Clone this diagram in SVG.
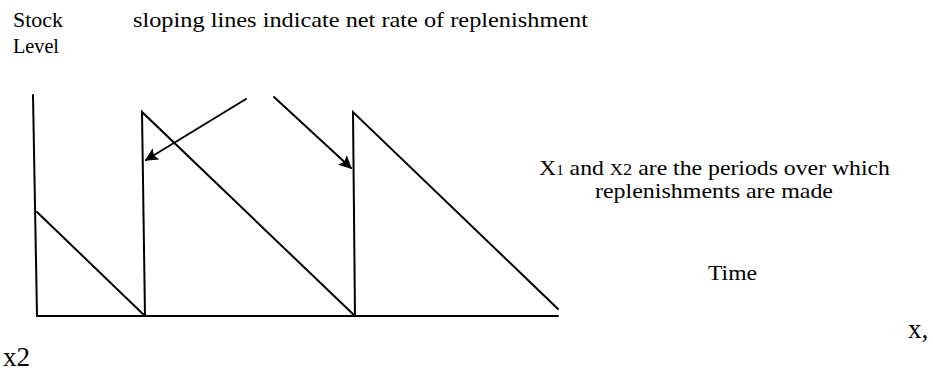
<svg xmlns="http://www.w3.org/2000/svg" width="933" height="373" viewBox="0 0 933 373">
<style>
  text { font-family: "Liberation Serif", "Times New Roman", "DejaVu Serif", serif; fill: #000; }
  .t { font-size: 22px; }
  .ln { stroke: #000; stroke-width: 2; fill: none; stroke-linecap: round; }
</style>
<defs>
  <marker id="ah" viewBox="0 0 10 10" refX="9" refY="5" markerWidth="9" markerHeight="6.5" orient="auto" markerUnits="strokeWidth">
    <path d="M0,0 L10,5 L0,10 L2,5 Z" fill="#000"/>
  </marker>
</defs>
<rect width="933" height="373" fill="#fff"/>

<g id="axes">
  <path class="ln" d="M33,95 L37,316 L558,316"/>
</g>

<g id="sawtooth">
  <path class="ln" d="M37,212 L145,316"/>
  <path class="ln" d="M145,316 L142,112 L355,316"/>
  <path class="ln" d="M355,316 L353,112 L558,309"/>
</g>

<g id="connectors">
  <path class="ln" d="M246,99 L146,160" marker-end="url(#ah)"/>
  <path class="ln" d="M274,97 L351,168" marker-end="url(#ah)"/>
</g>

<g id="label-stock">
  <text class="t" x="13" y="27" textLength="50" lengthAdjust="spacingAndGlyphs">Stock</text>
  <text class="t" x="13" y="53" textLength="46" lengthAdjust="spacingAndGlyphs">Level</text>
</g>

<g id="label-sloping">
  <text class="t" x="133" y="27" textLength="455" lengthAdjust="spacingAndGlyphs">sloping lines indicate net rate of replenishment</text>
</g>

<g id="label-periods">
  <text class="t" x="539" y="175" textLength="351" lengthAdjust="spacingAndGlyphs">X<tspan font-size="14">1</tspan> and <tspan font-size="17">X2</tspan> are the periods over which</text>
  <text class="t" x="595" y="198" textLength="238" lengthAdjust="spacingAndGlyphs">replenishments are made</text>
</g>

<g id="label-time">
  <text class="t" x="708" y="280" textLength="49" lengthAdjust="spacingAndGlyphs">Time</text>
</g>

<g id="label-x">
  <text x="908" y="338" font-size="27">x,</text>
  <text x="3" y="366" font-size="27">x2</text>
</g>
</svg>
